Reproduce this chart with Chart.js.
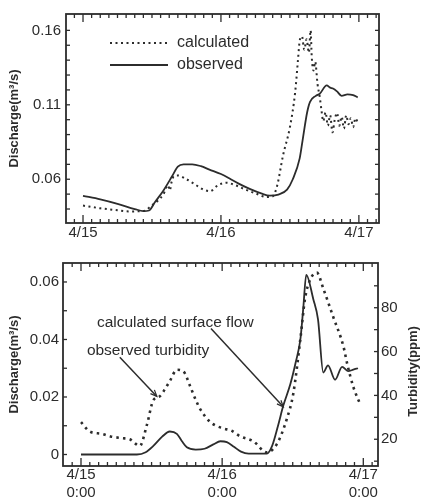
<!DOCTYPE html>
<html><head><meta charset="utf-8">
<script src="https://cdn.jsdelivr.net/npm/chart.js@4/dist/chart.umd.min.js"></script>
<style>
html,body{margin:0;padding:0;background:#fff;}
#wrap{position:relative;width:422px;height:502px;overflow:hidden;background:#fff;}
canvas{position:absolute;left:0;}
#c1{top:0;} #c2{top:250px;}
</style></head><body>
<div id="wrap"><canvas id="c1" width="422" height="250"></canvas><canvas id="c2" width="422" height="252"></canvas></div>
<script>
// ---------- data (hours after 4/15 0:00) ----------
const topObsHours = [0,3,6,9,10.5,11.5,12.5,14,15.5,16.5,17.5,19,20.5,22,24,25.5,27,29,31,32.5,34,35.5,36.5,37.7,38.2,39,39.5,40.5,41.2,42.4,43,43.5,44.2,45,46,47,47.8];
const topObsQ = [0.0489,0.0465,0.0435,0.0400,0.0386,0.0390,0.0445,0.0525,0.0620,0.0685,0.0700,0.0700,0.0688,0.0665,0.0635,0.0605,0.0572,0.0535,0.0505,0.0490,0.0497,0.0530,0.0600,0.0740,0.0860,0.1050,0.1120,0.1160,0.1175,0.1230,0.1215,0.1210,0.1190,0.1160,0.1170,0.1165,0.1150];
const topCalcHours = [0,3,6,8,10.5,12,13,14,14.8,15.1,15.4,15.8,16.5,18,19.5,21,22.1,23.5,25,26.5,28,30,32,33,33.8,34.8,36,36.9,37.4,37.7,38.1,38.5,38.9,39.3,39.6,39.8,40.1,40.4,40.8,41.2,41.5,41.8,42.2,42.6,43,43.4,43.8,44.2,44.6,45,45.4,45.8,46.2,46.6,47,47.4,47.8];
const topCalcQ = [0.0423,0.0405,0.0392,0.0384,0.0386,0.0425,0.0455,0.0500,0.0560,0.0525,0.0580,0.0620,0.0625,0.0600,0.0565,0.0530,0.0520,0.0560,0.0576,0.0560,0.0535,0.0505,0.0480,0.0485,0.0560,0.0760,0.0950,0.1180,0.1400,0.1530,0.1560,0.1470,0.1540,0.1450,0.1600,0.1420,0.1330,0.1390,0.1240,0.1150,0.1060,0.0990,0.1050,0.0960,0.1030,0.0915,0.1000,0.1045,0.0960,0.1020,0.0940,0.1030,0.0970,0.1010,0.0950,0.1010,0.0980];

const botFlowHours = [0,9.5,11,12.3,13.8,15.1,16.3,17.2,18,19.5,21,22.5,23.7,24.8,26,27.2,28.5,31.6,32.5,33.5,34.4,35.6,36.5,37.3,37.8,38.3,39.5,40.3,41.2,42,43.2,44.4,45.4,46.3,47.1];
const botFlowQ = [0,0,0.0008,0.0030,0.0062,0.0080,0.0072,0.0045,0.0025,0.0017,0.0020,0.0035,0.0046,0.0043,0.0027,0.0010,0.0003,0.0003,0.0030,0.0100,0.0170,0.0245,0.0320,0.0400,0.0510,0.0625,0.0540,0.0470,0.0285,0.0310,0.0260,0.0305,0.0290,0.0295,0.0300];
const botTurbHours = [0,1.5,3.5,5,7,8.3,10,11.2,12.3,13.4,14.3,15.1,16.3,17.4,18.6,19.5,20.3,22,24.2,25.5,27.1,29.3,31.6,33.3,35,36.1,37.3,38.1,39,40.1,41.2,42.9,44.6,45.3,46.3,47.5];
const botTurbPpm = [27.8,23.5,22.5,21.3,20.5,20,17,26.5,37.8,39.6,43,46.5,51.7,51,43.9,38,33.6,27.8,24.9,24,21.3,19.1,14,17.8,29.3,40.9,65.7,84.3,93,96,88.7,75.7,62.6,54,43.9,35.8];

// ---------- tick labels / text ----------
const dayTicks = [0,24,48];
const topDayLabels = ['4/15','4/16','4/17'];
const botDayLabels = [['4/15','0:00'],['4/16','0:00'],['4/17','0:00']];
const topYTicks = [0.06,0.11,0.16];
const topYLabels = ['0.06','0.11','0.16'];
const botYTicks = [0,0.02,0.04,0.06];
const botYLabels = ['0','0.02','0.04','0.06'];
const turbTicks = [20,40,60,80];
const turbLabels = ['20','40','60','80'];
const topSeriesNames = ['calculated','observed'];
const botSeriesNames = ['calculated surface flow','observed turbidity'];
const yTitle = 'Discharge(m\u00B3/s)';
const y2Title = 'Turbidity(ppm)';

// ---------- styling ----------
const ink = '#2c2c2c';
const fontFam = '"Liberation Sans", Arial, Helvetica, sans-serif';

function range(a, b, s){ const r=[]; for(let v=a; v<=b+1e-9; v+=s) r.push(+v.toFixed(6)); return r; }
function pts(xs, ys){ return xs.map((x,i)=>({x:x, y:ys[i]})); }

const frameTicks = {
  id: 'frameTicks',
  afterDatasetsDraw(chart, args, o) {
    const {ctx, chartArea: a} = chart;
    ctx.save();
    ctx.strokeStyle = ink;
    ctx.lineWidth = 1.8;
    ctx.strokeRect(a.left, a.top, a.right - a.left, a.bottom - a.top);
    ctx.lineWidth = 1.3;
    const ln = (x1,y1,x2,y2)=>{ ctx.beginPath(); ctx.moveTo(x1,y1); ctx.lineTo(x2,y2); ctx.stroke(); };
    const xs = chart.scales.x;
    o.xMinor.forEach(v => {
      const p = xs.getPixelForValue(v);
      if (p <= a.left + 2 || p >= a.right - 2) return;
      const L = o.xMajor.some(m => Math.abs(m - v) < 1e-6) ? 8 : 4;
      ln(p, a.bottom, p, a.bottom - L);
      ln(p, a.top, p, a.top + L);
    });
    const ys = chart.scales.y;
    o.yMinor.forEach(v => {
      const p = ys.getPixelForValue(v);
      if (p <= a.top + 2 || p >= a.bottom - 2) return;
      ln(a.left, p, a.left + 4, p);
      if (!o.y2Minor) ln(a.right, p, a.right - 4, p);
    });
    if (o.y2Minor) {
      const y2 = chart.scales.y2;
      o.y2Minor.forEach(v => {
        const p = y2.getPixelForValue(v);
        if (p <= a.top + 2 || p >= a.bottom - 2) return;
        ln(a.right, p, a.right - 4, p);
      });
    }
    ctx.restore();
  }
};

const topLegend = {
  id: 'topLegend',
  afterDraw(chart) {
    const {ctx, chartArea: a} = chart;
    ctx.save();
    ctx.font = '16px ' + fontFam;
    ctx.fillStyle = ink;
    ctx.textBaseline = 'middle';
    chart.data.datasets.forEach((ds, i) => {
      const y = a.top + 29 + i * 22;
      ctx.strokeStyle = ds.borderColor;
      ctx.lineWidth = ds.borderWidth;
      ctx.setLineDash(ds.borderDash || []);
      ctx.beginPath(); ctx.moveTo(a.left + 44, y); ctx.lineTo(a.left + 102, y); ctx.stroke();
      ctx.setLineDash([]);
      ctx.fillText(ds.label, a.left + 111, y);
    });
    ctx.restore();
  }
};

// annotations anchored in data coordinates (hours, discharge)
const annots = [
  {text: botSeriesNames[0], tx: 2.7, ty: 0.0457, from: [22.1, 0.0438], to: [34.4, 0.0166]},
  {text: botSeriesNames[1], tx: 1.0, ty: 0.0362, from: [6.6, 0.0338], to: [12.9, 0.0202]}
];
const botAnnot = {
  id: 'botAnnot',
  afterDraw(chart) {
    const {ctx, chartArea: a} = chart;
    const xs = chart.scales.x, ys = chart.scales.y;
    ctx.save();
    ctx.fillStyle = ink; ctx.strokeStyle = ink;
    ctx.font = '15.5px ' + fontFam;
    ctx.textBaseline = 'middle';
    annots.forEach(an => {
      ctx.fillText(an.text, xs.getPixelForValue(an.tx), ys.getPixelForValue(an.ty));
      const x1 = xs.getPixelForValue(an.from[0]), y1 = ys.getPixelForValue(an.from[1]);
      const x2 = xs.getPixelForValue(an.to[0]), y2p = ys.getPixelForValue(an.to[1]);
      ctx.lineWidth = 1.5;
      ctx.beginPath(); ctx.moveTo(x1, y1); ctx.lineTo(x2, y2p); ctx.stroke();
      const ang = Math.atan2(y2p - y1, x2 - x1), h = 7;
      ctx.lineWidth = 1.2;
      ctx.beginPath();
      ctx.moveTo(x2 - h*Math.cos(ang - 0.4), y2p - h*Math.sin(ang - 0.4));
      ctx.lineTo(x2, y2p);
      ctx.lineTo(x2 - h*Math.cos(ang + 0.4), y2p - h*Math.sin(ang + 0.4));
      ctx.stroke();
    });
    // right axis title, reading bottom-to-top
    ctx.font = 'bold 13px ' + fontFam;
    ctx.textAlign = 'center';
    ctx.translate(a.right + 35, (a.top + a.bottom) / 2 + 7);
    ctx.rotate(-Math.PI / 2);
    ctx.fillText(y2Title, 0, 0);
    ctx.restore();
  }
};

Chart.defaults.font.family = fontFam;
Chart.defaults.color = ink;
Chart.defaults.animation = false;

const noGrid = {display: false, drawTicks: false, tickLength: 0};

// ---------- top chart ----------
new Chart(document.getElementById('c1'), {
  type: 'line',
  data: {
    datasets: [
      {label: topSeriesNames[0], data: pts(topCalcHours, topCalcQ), borderColor: ink, borderWidth: 2, borderDash: [2, 3.5], pointRadius: 0, cubicInterpolationMode: 'monotone', fill: false},
      {label: topSeriesNames[1], data: pts(topObsHours, topObsQ), borderColor: ink, borderWidth: 1.8, pointRadius: 0, cubicInterpolationMode: 'monotone', fill: false}
    ]
  },
  options: {
    responsive: false, devicePixelRatio: 1,
    layout: {padding: {top: 8, right: 43, left: 0, bottom: 0}},
    plugins: {legend: {display: false}, tooltip: {enabled: false},
      frameTicks: {xMinor: range(-1.5, 51, 1.5), xMajor: dayTicks, yMinor: range(0.04, 0.16, 0.01)}},
    scales: {
      x: {type: 'linear', min: -2.96, max: 51.5,
        grid: noGrid, border: {display: false},
        afterBuildTicks: s => { s.ticks = dayTicks.map(v => ({value: v})); },
        afterFit: s => { s.height = 27; },
        ticks: {autoSkip: false, maxRotation: 0, padding: 1, color: ink, font: {size: 15, lineHeight: 1.2},
          callback: v => topDayLabels[dayTicks.indexOf(v)]}},
      y: {type: 'linear', min: 0.0306, max: 0.171,
        grid: noGrid, border: {display: false},
        afterBuildTicks: s => { s.ticks = topYTicks.map(v => ({value: v})); },
        afterFit: s => { s.width = 66; },
        title: {display: true, text: yTitle, color: ink, font: {size: 13, weight: 'bold', lineHeight: 1.2}, padding: {top: 7, bottom: 0}},
        ticks: {padding: 5, color: ink, font: {size: 15},
          callback: v => topYLabels[topYTicks.findIndex(t => Math.abs(t - v) < 1e-9)]}}
    }
  },
  plugins: [frameTicks, topLegend]
});

// ---------- bottom chart ----------
new Chart(document.getElementById('c2'), {
  type: 'line',
  data: {
    datasets: [
      {label: botSeriesNames[0], data: pts(botFlowHours, botFlowQ), yAxisID: 'y', borderColor: ink, borderWidth: 1.8, pointRadius: 0, cubicInterpolationMode: 'monotone', fill: false},
      {label: botSeriesNames[1], data: pts(botTurbHours, botTurbPpm), yAxisID: 'y2', borderColor: ink, borderWidth: 2.6, borderDash: [2.5, 4.2], pointRadius: 0, cubicInterpolationMode: 'monotone', fill: false}
    ]
  },
  options: {
    responsive: false, devicePixelRatio: 1,
    layout: {padding: {top: 3, right: 0, left: 0, bottom: 0}},
    plugins: {legend: {display: false}, tooltip: {enabled: false},
      frameTicks: {xMinor: range(-1.5, 50, 1.5), xMajor: dayTicks, yMinor: range(0, 0.06, 0.01), y2Minor: range(10, 90, 10)}},
    scales: {
      x: {type: 'linear', min: -3.06, max: 50.5,
        grid: noGrid, border: {display: false},
        afterBuildTicks: s => { s.ticks = dayTicks.map(v => ({value: v})); },
        afterFit: s => { s.height = 36; },
        ticks: {autoSkip: false, maxRotation: 0, padding: 0, color: ink, font: {size: 15, lineHeight: 1.2},
          callback: v => botDayLabels[dayTicks.indexOf(v)]}},
      y: {type: 'linear', position: 'left', min: -0.004, max: 0.0666,
        grid: noGrid, border: {display: false},
        afterBuildTicks: s => { s.ticks = botYTicks.map(v => ({value: v})); },
        afterFit: s => { s.width = 63; },
        title: {display: true, text: yTitle, color: ink, font: {size: 13, weight: 'bold', lineHeight: 1.2}, padding: {top: 7, bottom: 0}},
        ticks: {padding: 4, color: ink, font: {size: 15},
          callback: v => botYLabels[botYTicks.findIndex(t => Math.abs(t - v) < 1e-9)]}},
      y2: {type: 'linear', position: 'right', min: 7.8, max: 100.4,
        grid: noGrid, border: {display: false},
        afterBuildTicks: s => { s.ticks = turbTicks.map(v => ({value: v})); },
        afterFit: s => { s.width = 44; },
        ticks: {padding: 3, color: ink, font: {size: 15},
          callback: v => turbLabels[turbTicks.indexOf(v)]}}
    }
  },
  plugins: [frameTicks, botAnnot]
});
</script>
</body></html>
